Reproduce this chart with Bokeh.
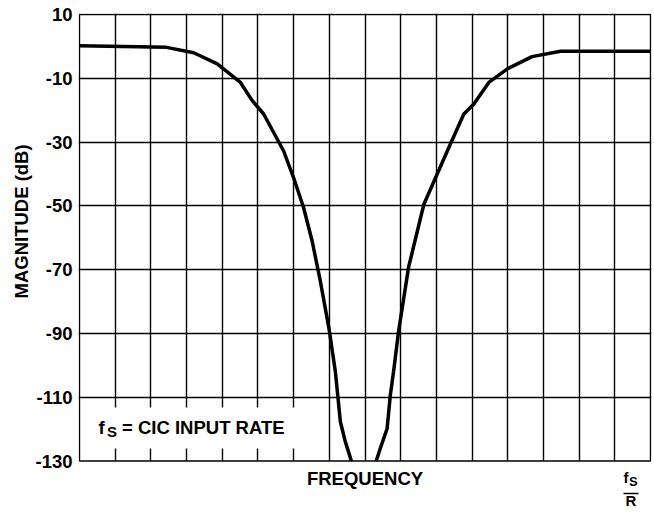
import math
from bokeh.plotting import figure
from bokeh.models import Range1d, FixedTicker, Label, Title
from bokeh.embed import file_html
from bokeh.resources import INLINE

# ---- data (frequency in grid columns, 16 columns up to fs/R; magnitude in dB) ----
freq_left = [0, 2.44, 3.2, 3.86, 4.51, 4.84, 5.16, 5.72, 6.0, 6.28, 6.52, 6.75, 6.99, 7.17, 7.31, 7.45, 7.66]
mag_left = [0.2, -0.3, -2.0, -5.5, -11.3, -17.0, -21.2, -32.8, -41.2, -50.6, -61.1, -73.7, -88.4, -102.0, -117.7, -124.0, -131.5]
freq_right = [8.27, 8.43, 8.62, 8.71, 8.8, 8.94, 9.22, 9.65, 10.02, 10.39, 10.77, 11.05, 11.47, 11.98, 12.68, 13.48, 16]
mag_right = [-131.5, -126.0, -119.8, -109.3, -102.0, -89.4, -69.3, -49.5, -40.1, -30.7, -21.2, -18.1, -11.3, -7.1, -3.2, -1.5, -1.5]
y_ticks = [10, -10, -30, -50, -70, -90, -110, -130]
y_tick_labels = ["10", "-10", "-30", "-50", "-70", "-90", "-110", "-130"]
x_grid = list(range(17))
x_label = "FREQUENCY"
y_label = "MAGNITUDE (dB)"
note_main = "= CIC INPUT RATE"

FONT = "Liberation Sans"
W, H = 652, 511
# geometry of the chart box in page pixels (10 dB line at y=14, -130 dB at y=460.5)
PX_X0, PX_X16 = 79.0, 650.0
PX_Y10, PX_YM130 = 14.0, 460.5
COL = (PX_X16 - PX_X0) / 16
DBPX = (PX_YM130 - PX_Y10) / 140

ML, MR, MT, MB = 78, 1, 13, 0
x_start = -(PX_X0 - ML) / COL
x_end = 16 + (W - MR - PX_X16) / COL
y_end = 10 + (PX_Y10 - MT) / DBPX
y_start = -130 - (H - MB - PX_YM130) / DBPX
TXT_SHIFT = 8  # baseline correction for alphabetic labels


def cx(px):
    return (px - PX_X0) / COL


def cy(py):
    return 10 - (py - PX_Y10) / DBPX


def cyt(py):
    return cy(py - TXT_SHIFT)


p = figure(width=W, height=H, output_backend="svg", toolbar_location=None,
           x_range=Range1d(x_start, x_end), y_range=Range1d(y_start, y_end),
           min_border_left=ML, min_border_right=MR, min_border_top=MT, min_border_bottom=MB)
p.background_fill_color = "white"
p.border_fill_color = "white"
p.outline_line_color = None

# inner grid lines (the chart box border is drawn separately below)
p.xgrid.ticker = FixedTicker(ticks=x_grid[1:-1])
p.ygrid.ticker = FixedTicker(ticks=y_ticks[1:-1])
for g in (p.xgrid, p.ygrid):
    g.grid_line_color = "black"
    g.grid_line_width = 1.4
    g.grid_line_alpha = 1.0

p.xaxis.visible = False

p.yaxis.ticker = FixedTicker(ticks=y_ticks)
p.yaxis.major_label_overrides = {t: s for t, s in zip(y_ticks, y_tick_labels)}
p.yaxis.axis_line_color = None
p.yaxis.major_tick_out = 0
p.yaxis.major_tick_in = 0
p.yaxis.minor_tick_out = 0
p.yaxis.minor_tick_in = 0
p.yaxis.major_label_standoff = 6
p.yaxis.major_label_text_font = FONT
p.yaxis.major_label_text_font_style = "bold"
p.yaxis.major_label_text_font_size = "18.5px"
p.yaxis.major_label_text_color = "black"

# y axis title: starts 213 px above the bottom of the panel (as in the original)
p.add_layout(Title(text=y_label, align="left", offset=H - MB - 298, text_font=FONT,
                   text_font_style="bold", text_font_size="18.5px", text_color="black",
                   standoff=2), "left")

# the curve
p.line(freq_left, mag_left, line_width=3.5, line_color="black")
p.line(freq_right, mag_right, line_width=3.5, line_color="black")

# white area below the chart box (hides grid and curve beyond -130 dB)
p.quad(left=x_start - 1, right=x_end + 1, bottom=y_start - 10, top=-130,
       fill_color="white", line_color=None)
# white box for the note (interrupts the grid lines)
p.quad(left=cx(80.5), right=cx(325), bottom=cy(448), top=cy(407),
       fill_color="white", line_color=None)
# chart box border
p.quad(left=x_grid[0], right=x_grid[-1], bottom=y_ticks[-1], top=y_ticks[0],
       fill_color=None, line_color="black", line_width=1.4)

common = dict(text_font=FONT, text_font_style="bold", text_color="black",
              text_baseline="alphabetic")
p.add_layout(Label(x=cx(98), y=cyt(434.5), text="f", text_font_size="18.5px", **common))
p.add_layout(Label(x=cx(106.5), y=cyt(438.5), text="S", text_font_size="15px", **common))
p.add_layout(Label(x=cx(121.5), y=cyt(434.5), text=note_main, text_font_size="18.5px", **common))

# x axis title
p.add_layout(Label(x=8.0, y=cyt(486), text=x_label, text_align="center",
                   text_font_size="18.5px", **common))

# fs / R at the right end of the frequency axis
p.add_layout(Label(x=cx(623), y=cyt(485), text="f", text_font_size="15px", **common))
p.add_layout(Label(x=cx(628.5), y=cyt(489), text="S", text_font_size="13px", **common))
p.segment(x0=[cx(623)], y0=[cy(493)], x1=[cx(638)], y1=[cy(493)],
          line_width=1.5, line_color="black")
p.add_layout(Label(x=cx(630.5), y=cyt(507.5), text="R", text_align="center",
                   text_font_size="15px", **common))

open("out.html", "w").write(file_html(p, INLINE))
